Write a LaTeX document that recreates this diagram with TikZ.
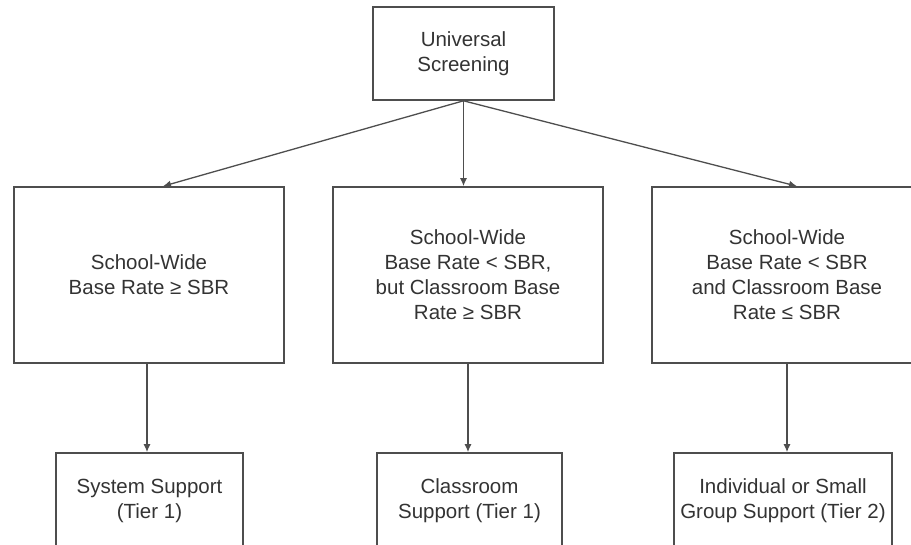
\documentclass[tikz,border=0pt]{standalone}
\usepackage{fontspec}
\setmainfont{Liberation Sans}
\usetikzlibrary{arrows.meta}
\definecolor{linec}{HTML}{4E4E4E}
\definecolor{textc}{HTML}{333333}
\begin{document}
\begin{tikzpicture}[x=1pt,y=-1pt,
  box/.style={draw=linec, line width=1.6pt, text=textc, align=center,
    font=\fontsize{20.5}{25}\selectfont, inner sep=0pt},
  arr/.style={draw=linec, line width=1.3pt, -{Latex[length=8pt,width=7pt]}}]
\useasboundingbox (0,0) rectangle (911,544);
\clip (0,0) rectangle (911,544);
\node[box, minimum width=181pt, minimum height=93pt] (top) at (463.5,53.5) {Universal\\Screening};
\node[box, minimum width=270pt, minimum height=176pt] (m1) at (149,275) {School-Wide\\Base Rate ≥ SBR};
\node[box, minimum width=270pt, minimum height=176pt] (m2) at (468,275) {School-Wide\\Base Rate < SBR,\\but Classroom Base\\Rate ≥ SBR};
\node[box, minimum width=270pt, minimum height=176pt] (m3) at (787,275) {School-Wide\\Base Rate < SBR\\and Classroom Base\\Rate ≤ SBR};
\node[box, minimum width=187pt, minimum height=96pt] (b1) at (149.5,501) {System Support\\(Tier 1)};
\node[box, minimum width=185pt, minimum height=96pt] (b2) at (469.5,501) {Classroom\\Support (Tier 1)};
\node[box, minimum width=218pt, minimum height=96pt] (b3) at (783,501) {Individual or Small\\Group Support (Tier 2)};
\draw[arr] (top.south) -- ([xshift=14pt]m1.north);
\draw[arr] (top.south) -- (top.south |- m2.north);
\draw[arr] (top.south) -- ([xshift=10pt]m3.north);
\draw[arr] ([xshift=-2pt]m1.south) -- ([xshift=-2pt]m1.south |- b1.north);
\draw[arr] (m2.south) -- (m2.south |- b2.north);
\draw[arr] (m3.south) -- (m3.south |- b3.north);
\end{tikzpicture}
\end{document}
